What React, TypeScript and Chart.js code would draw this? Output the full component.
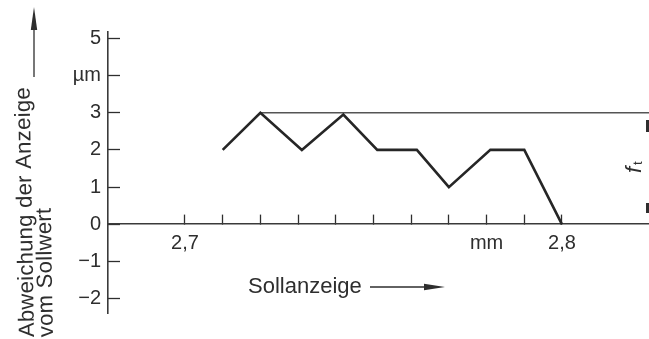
import React, { useEffect, useRef } from "react";
import { Chart, registerables } from "chart.js";

Chart.register(...registerables);

// ---- data ----
const sollanzeige = [2.71, 2.72, 2.731, 2.742, 2.751, 2.7615, 2.77, 2.781, 2.79, 2.8];
const abweichung = [2.0, 3.0, 2.0, 2.95, 2.0, 2.0, 1.0, 2.0, 2.0, 0.0];

const refLineX = [2.72, 2.83];
const refLineY = [3, 3];

const xTicks = [2.7, 2.71, 2.72, 2.73, 2.74, 2.75, 2.76, 2.77, 2.78, 2.79, 2.8];
const xTickLabels = ["2,7", "", "", "", "", "", "", "", "mm", "", "2,8"];
const yTicks = [-2, -1, 0, 1, 2, 3, 4, 5];
const yTickLabels = ["−2", "−1", "0", "1", "2", "3", "µm", "5"];

const xMin = 2.67958;
const xMax = 2.82308;
const yMin = -2.385;
const yMax = 5.17;

const yTitleLine1 = "Abweichung der Anzeige";
const yTitleLine2 = "vom Sollwert";
const xTitle = "Sollanzeige";

const FONT = "'Liberation Sans', Arial, sans-serif";
const INK = "#2e2e2e";

const labelFor = (ticks: number[], labels: string[], v: number) => {
  const i = ticks.findIndex((t) => Math.abs(t - v) < 1e-6);
  return i >= 0 ? labels[i] : "";
};

const decorPlugin = {
  id: "decor",
  afterDraw(chart: any) {
    const ctx = chart.ctx as CanvasRenderingContext2D;
    ctx.save();
    ctx.fillStyle = INK;
    ctx.strokeStyle = INK;

    // y title (rotated, two lines, slightly tilted as in the scan) with arrow
    const drawRot = (text: string, x: number, y: number) => {
      ctx.save();
      ctx.font = `22px ${FONT}`;
      (ctx as any).letterSpacing = "0.3px";
      ctx.textAlign = "left";
      ctx.textBaseline = "alphabetic";
      ctx.translate(x, y);
      ctx.rotate(-Math.PI / 2 - 0.018);
      ctx.fillText(text, 0, 0);
      ctx.restore();
    };
    drawRot(yTitleLine1, 34, 337);
    drawRot(yTitleLine2, 53, 337);

    ctx.lineWidth = 1.3;
    ctx.beginPath();
    ctx.moveTo(34, 77);
    ctx.lineTo(34, 28);
    ctx.stroke();
    ctx.beginPath();
    ctx.moveTo(34, 7);
    ctx.lineTo(37.2, 30);
    ctx.lineTo(30.8, 30);
    ctx.closePath();
    ctx.fill();

    // x title with arrow
    ctx.font = `22px ${FONT}`;
    ctx.textAlign = "left";
    ctx.textBaseline = "alphabetic";
    ctx.fillText(xTitle, 248, 293);
    ctx.beginPath();
    ctx.moveTo(370, 287);
    ctx.lineTo(428, 287);
    ctx.stroke();
    ctx.beginPath();
    ctx.moveTo(445, 287);
    ctx.lineTo(424, 283.8);
    ctx.lineTo(424, 290.2);
    ctx.closePath();
    ctx.fill();

    // f_t label (rotated)
    ctx.save();
    ctx.translate(641, 173);
    ctx.rotate(-Math.PI / 2);
    ctx.font = `italic 22px ${FONT}`;
    ctx.textAlign = "left";
    ctx.textBaseline = "alphabetic";
    ctx.fillText("f", 0, 0);
    ctx.font = `13px ${FONT}`;
    ctx.fillText("t", 8, 1);
    ctx.restore();

    // dimension marks at right edge
    ctx.lineWidth = 3;
    ctx.beginPath();
    ctx.moveTo(647.5, 120);
    ctx.lineTo(647.5, 132);
    ctx.moveTo(647.5, 203);
    ctx.lineTo(647.5, 213);
    ctx.stroke();

    ctx.restore();
  },
};

export default function App() {
  const ref = useRef<HTMLCanvasElement | null>(null);

  useEffect(() => {
    document.body.style.margin = "0";
    const canvas = ref.current;
    if (!canvas) return;
    const chart = new Chart(canvas, {
      type: "line",
      data: {
        datasets: [
          {
            data: sollanzeige.map((x, i) => ({ x, y: abweichung[i] })),
            borderColor: "#262626",
            borderWidth: 2.6,
            pointRadius: 0,
            tension: 0,
            borderJoinStyle: "miter",
            fill: false,
          },
          {
            data: refLineX.map((x, i) => ({ x, y: refLineY[i] })),
            borderColor: "#555555",
            borderWidth: 1.4,
            pointRadius: 0,
            tension: 0,
            fill: false,
          },
        ],
      },
      options: {
        animation: false,
        responsive: false,
        devicePixelRatio: 1,
        layout: { padding: { top: 32, bottom: 26, left: 0, right: 0 } },
        plugins: { legend: { display: false }, tooltip: { enabled: false } },
        scales: {
          x: {
            type: "linear",
            position: { y: 0 } as any,
            min: xMin,
            max: xMax,
            afterBuildTicks: (scale: any) => {
              scale.ticks = xTicks.map((v) => ({ value: v }));
            },
            afterFit: (scale: any) => {
              scale.height = 0;
              scale.paddingLeft = 0;
              scale.paddingRight = 0;
              scale.paddingTop = 0;
              scale.paddingBottom = 0;
            },
            ticks: {
              autoSkip: false,
              maxRotation: 0,
              minRotation: 0,
              padding: 17.5,
              color: INK,
              font: { family: FONT, size: 20 },
              callback: (v: any) => labelFor(xTicks, xTickLabels, Number(v)),
            },
            grid: {
              drawOnChartArea: false,
              drawTicks: true,
              tickLength: -10,
              tickWidth: 1.3,
              tickColor: INK,
            },
            border: { display: true, color: "#3a3a3a", width: 1.6 },
          },
          y: {
            type: "linear",
            position: "left",
            min: yMin,
            max: yMax,
            afterBuildTicks: (scale: any) => {
              scale.ticks = yTicks.map((v) => ({ value: v }));
            },
            afterFit: (scale: any) => {
              scale.width = 108;
              scale.paddingLeft = 0;
              scale.paddingRight = 0;
              scale.paddingTop = 0;
              scale.paddingBottom = 0;
            },
            ticks: {
              padding: 19,
              color: INK,
              font: { family: FONT, size: 20 },
              callback: (v: any) => labelFor(yTicks, yTickLabels, Number(v)),
            },
            grid: {
              drawOnChartArea: false,
              drawTicks: true,
              tickLength: -12,
              tickWidth: 1.3,
              tickColor: INK,
            },
            border: { display: true, color: "#3a3a3a", width: 1.6 },
          },
        },
      },
      plugins: [decorPlugin],
    } as any);
    return () => chart.destroy();
  }, []);

  return (
    <div style={{ width: 649, height: 339 }}>
      <canvas ref={ref} width={649} height={339} style={{ display: "block" }} />
    </div>
  );
}
